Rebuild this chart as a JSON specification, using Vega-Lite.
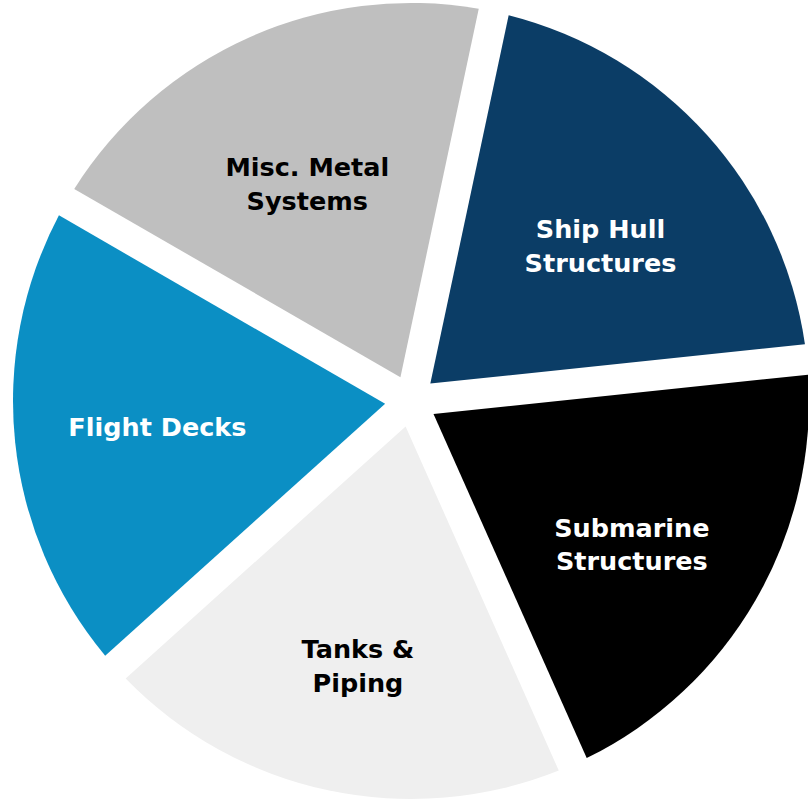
{
  "$schema": "https://vega.github.io/schema/vega-lite/v6.json",
  "width": 808,
  "height": 806,
  "autosize": {"type": "fit", "contains": "padding"},
  "padding": {"left": 14, "top": 0, "right": 0, "bottom": 4},
  "background": "white",
  "view": {"stroke": null},
  "data": {
    "values": [
      {"segment": "Ship Hull Structures", "label": "Ship Hull\nStructures", "share": 20},
      {"segment": "Submarine Structures", "label": "Submarine\nStructures", "share": 20},
      {"segment": "Tanks & Piping", "label": "Tanks &\nPiping", "share": 20},
      {"segment": "Flight Decks", "label": "Flight Decks", "share": 20},
      {"segment": "Misc. Metal Systems", "label": "Misc. Metal\nSystems", "share": 20}
    ]
  },
  "encoding": {
    "theta": {"field": "share", "type": "quantitative", "stack": true, "scale": {"range": [3.9794, 10.2626]}},
    "order": {"field": "segment", "type": "ordinal", "sort": "ascending"}
  },
  "layer": [
    {
      "mark": {"type": "arc", "outerRadius": 398, "innerRadius": 26, "padAngle": 0.0767},
      "encoding": {
        "color": {
          "field": "segment",
          "type": "nominal",
          "scale": {
            "domain": ["Flight Decks", "Misc. Metal Systems", "Ship Hull Structures", "Submarine Structures", "Tanks & Piping"],
            "range": ["#0b8fc4", "#bfbfbf", "#0b3d66", "#000000", "#efefef"]
          },
          "legend": null
        }
      }
    },
    {
      "mark": {"type": "text", "radius": 255, "font": "DejaVu Sans", "fontWeight": "bold", "fontSize": 25.5, "lineBreak": "\n", "lineHeight": 33.5, "baseline": "middle", "align": "center"},
      "encoding": {
        "text": {"field": "label", "type": "nominal"},
        "color": {
          "field": "segment",
          "type": "nominal",
          "scale": {
            "domain": ["Flight Decks", "Misc. Metal Systems", "Ship Hull Structures", "Submarine Structures", "Tanks & Piping"],
            "range": ["#ffffff", "#000000", "#ffffff", "#ffffff", "#000000"]
          },
          "legend": null
        }
      }
    }
  ],
  "resolve": {"scale": {"color": "independent"}}
}
